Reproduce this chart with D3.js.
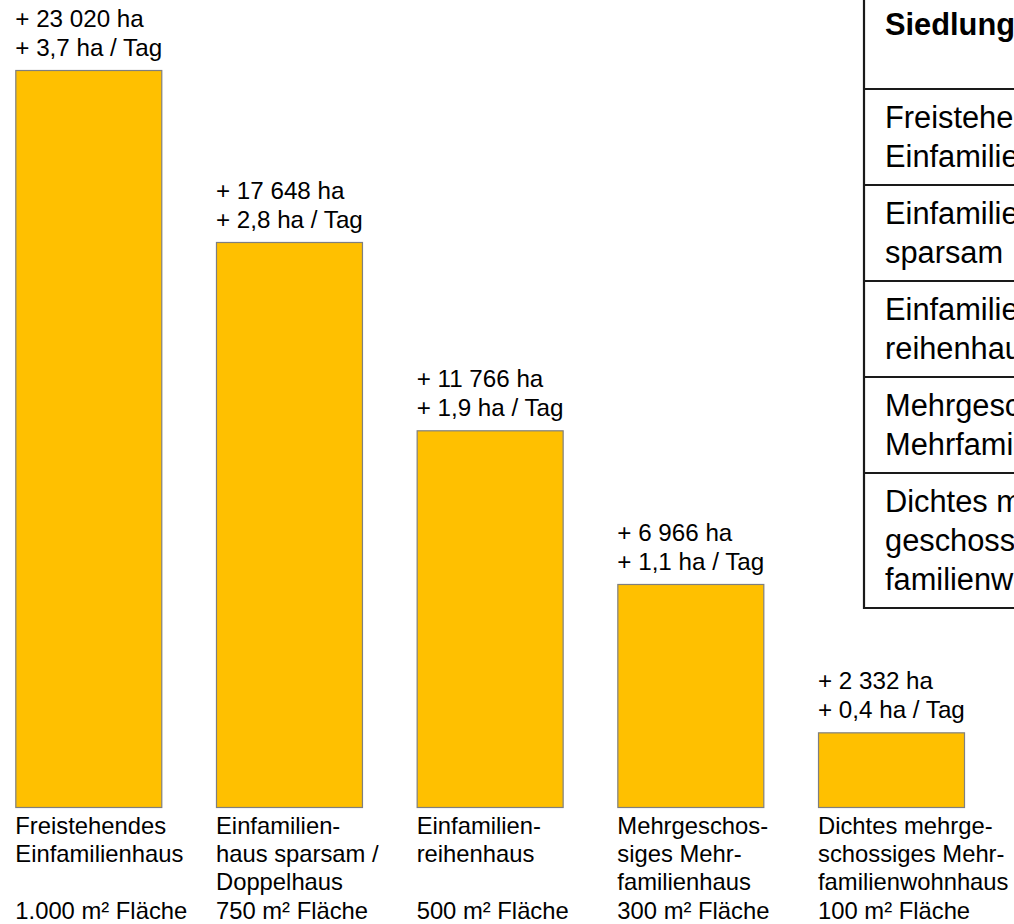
<!DOCTYPE html>
<html>
<head>
<meta charset="utf-8">
<script src="https://cdn.jsdelivr.net/npm/d3@7"></script>
<style>
  html, body { margin: 0; padding: 0; background: #fff; overflow: hidden; }
  svg { display: block; }
  text { font-family: "Liberation Sans", Arial, sans-serif; fill: #000; }
</style>
</head>
<body>
<script>
// ---- data ----
const categories = ["Freistehendes Einfamilienhaus", "Einfamilienhaus sparsam / Doppelhaus", "Einfamilienreihenhaus", "Mehrgeschossiges Mehrfamilienhaus", "Dichtes mehrgeschossiges Mehrfamilienwohnhaus"];
const hectares = [23020, 17648, 11766, 6966, 2332];
const totalLabels = ["+ 23 020 ha", "+ 17 648 ha", "+ 11 766 ha", "+ 6 966 ha", "+ 2 332 ha"];
const perDayLabels = ["+ 3,7 ha / Tag", "+ 2,8 ha / Tag", "+ 1,9 ha / Tag", "+ 1,1 ha / Tag", "+ 0,4 ha / Tag"];
const categoryLines = [
  ["Freistehendes", "Einfamilienhaus", ""],
  ["Einfamilien-", "haus sparsam /", "Doppelhaus"],
  ["Einfamilien-", "reihenhaus", ""],
  ["Mehrgeschos-", "siges Mehr-", "familienhaus"],
  ["Dichtes mehrge-", "schossiges Mehr-", "familienwohnhaus"]
];
const areaLabels = ["1.000 m² Fläche", "750 m² Fläche", "500 m² Fläche", "300 m² Fläche", "100 m² Fläche"];
const tableTitle = "Siedlungsfläche";
const tableRows = [
  ["Freistehendes", "Einfamilienhaus"],
  ["Einfamilienhaus", "sparsam"],
  ["Einfamilien-", "reihenhaus"],
  ["Mehrgeschossiges", "Mehrfamilienhaus"],
  ["Dichtes mehr-", "geschossiges Mehr-", "familienwohnhaus"]
];

// ---- layout ----
const W = 1014, H = 924;
const svg = d3.select("body").append("svg").attr("width", W).attr("height", H);
svg.append("defs").append("clipPath").attr("id", "clip")
  .append("rect").attr("x", 0).attr("y", 0).attr("width", W).attr("height", H);
const root = svg.append("g").attr("clip-path", "url(#clip)");

const x = d3.scaleBand().domain(categories).range([15.3, 964]).paddingInner(0.2725).paddingOuter(0);
const y = d3.scaleLinear().domain([0, 23020]).range([807, 70]);

const data = categories.map((c, i) => ({
  cat: c, v: hectares[i], t1: totalLabels[i], t2: perDayLabels[i],
  lines: categoryLines[i], area: areaLabels[i]
}));

// bars
root.selectAll("rect.bar").data(data).enter().append("rect")
  .attr("class", "bar")
  .attr("x", d => x(d.cat) + 0.5)
  .attr("y", d => y(d.v) + 0.5)
  .attr("width", x.bandwidth())
  .attr("height", d => y(0) - y(d.v))
  .attr("fill", "#FFC000")
  .attr("stroke", "#7f7f7f")
  .attr("stroke-width", 1.2);

const fsTop = 24.2, fs = 23.8;
// value labels above bars
const vl = root.selectAll("g.vl").data(data).enter().append("g").attr("class", "vl");
vl.append("text").attr("x", d => x(d.cat)).attr("y", d => y(d.v) - 43)
  .style("font-size", fsTop + "px").text(d => d.t1);
vl.append("text").attr("x", d => x(d.cat)).attr("y", d => y(d.v) - 14)
  .style("font-size", fsTop + "px").text(d => d.t2);

// category labels below bars
const cl = root.selectAll("g.cl").data(data).enter().append("g").attr("class", "cl");
cl.each(function(d) {
  const g = d3.select(this);
  d.lines.forEach((ln, j) => {
    if (ln) g.append("text").attr("x", x(d.cat)).attr("y", 834 + j * 28.2)
      .style("font-size", fs + "px").text(ln);
  });
  g.append("text").attr("x", x(d.cat)).attr("y", 834 + 3 * 28.2)
    .style("font-size", fs + "px").text(d.area);
});

// table on the right (cut off by the page edge)
const tx = 864, tfs = 30.8;
const rowBounds = [89, 185, 281, 377, 473, 608];
const tg = root.append("g");
tg.append("line").attr("x1", tx).attr("x2", tx).attr("y1", -2).attr("y2", rowBounds[rowBounds.length - 1] + 1)
  .attr("stroke", "#1a1a1a").attr("stroke-width", 2.2);
tg.selectAll("line.h").data(rowBounds).enter().append("line").attr("class", "h")
  .attr("x1", tx - 1).attr("x2", W + 5).attr("y1", d => d).attr("y2", d => d)
  .attr("stroke", "#1a1a1a").attr("stroke-width", 2.2);
tg.append("text").attr("x", 885).attr("y", 35).style("font-size", tfs + "px")
  .style("font-weight", "bold").text(tableTitle);
tableRows.forEach((lines, i) => {
  lines.forEach((ln, j) => {
    tg.append("text").attr("x", 885).attr("y", rowBounds[i] + 39 + j * 39)
      .style("font-size", tfs + "px").text(ln);
  });
});
</script>
</body>
</html>
